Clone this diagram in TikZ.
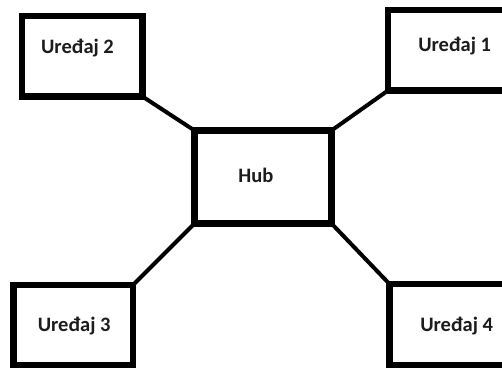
\documentclass[tikz,border=0pt]{standalone}
\usepackage{fontspec}
\setmainfont{Carlito}
\definecolor{txt}{RGB}{28,28,28}
\tikzset{
  box/.style={draw=black, line width=6.5pt, rectangle, inner sep=0pt, outer sep=0pt, fill=white},
  link/.style={draw=black, line width=4pt},
  lbl/.style={anchor=base, inner sep=0pt, text=txt, font=\fontsize{20.5}{24}\selectfont\bfseries}
}
\begin{document}
\begin{tikzpicture}[x=1pt, y=-1pt]
\useasboundingbox (0,0) rectangle (502,368);
\clip (0,0) rectangle (502,368);
\fill[white] (0,0) rectangle (502,368);
\node[box, minimum width=137pt, minimum height=93pt] (hub) at (263,177) {};
\node[box, minimum width=120.5pt, minimum height=80.5pt] (d2) at (82.25,56.25) {};
\node[box, minimum width=124pt, minimum height=80.5pt] (d1) at (450,50.25) {};
\node[box, minimum width=119.5pt, minimum height=80pt] (d3) at (73.25,325) {};
\node[box, minimum width=122.5pt, minimum height=81pt] (d4) at (450.75,324.5) {};
\draw[link] (d2.south east) -- (hub.north west);
\draw[link] (d1.south west) -- (hub.north east);
\draw[link] (d3.north east) -- (hub.south west);
\draw[link] (d4.north west) -- (hub.south east);
\node[lbl] (t2) at (77.5,53.3) {Uređaj 2};
\node[lbl] (t1) at (454.7,51.7) {Uređaj 1};
\node[lbl] (th) at (255.8,182.7) {Hub};
\node[lbl] (t3) at (74.2,331.7) {Uređaj 3};
\node[lbl] (t4) at (456.7,331.7) {Uređaj 4};
\end{tikzpicture}
\end{document}
